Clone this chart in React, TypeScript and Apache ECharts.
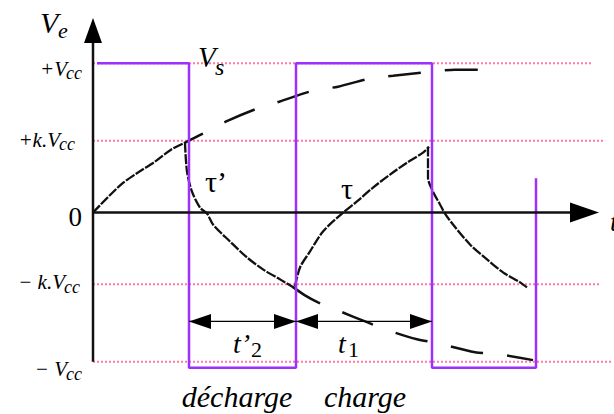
import { useEffect, useRef } from 'react';
import * as echarts from 'echarts';

const SERIF = 'Liberation Serif, Times New Roman, serif';

// Levels in units of Vcc; k is the comparator threshold ratio
const VCC = 1;
const K = 0.48;

const LEVELS = [VCC, K, 0, -K, -VCC];
const LEVEL_MAIN = ['+V', '+k.V', '0', '− k.V', '− V'];
const LEVEL_SUB = ['cc', 'cc', '', 'cc', 'cc'];

// Dotted reference lines and where each one stops on the time axis
const GUIDE_LEVELS = [VCC, K, -K, -VCC];
const GUIDE_ENDS = [49.9, 51.1, 50.7, 51.9];

// Output square wave Vs: switching instants and the level held after each one
const SWITCH_TIMES = [0.4, 9.6, 20.3, 33.9, 44.3];
const SWITCH_LEVELS = [1, -1.04, 1, -1.04, 0.23];

// Capacitor voltage Ve
const CHARGE_1 = [[0, 0], [2.8, 0.187], [4.5, 0.268], [6.2, 0.341], [7.8, 0.421], [9.2, 0.468]];
const DISCHARGE_1 = [
  [9.2, 0.468], [9.4, 0.274], [9.9, 0.14], [10.7, 0.033], [11.4, -0.007], [12.0, -0.08],
  [13.7, -0.194], [15.4, -0.301], [17.0, -0.381], [18.7, -0.448], [19.9, -0.495],
];
const CHARGE_2 = [
  [20.2, -0.495], [20.7, -0.368], [21.7, -0.261], [23.0, -0.127], [24.9, -0.007], [26.4, 0.074],
  [28.0, 0.167], [29.7, 0.254], [31.4, 0.334], [33.0, 0.401], [33.6, 0.441],
];
const DISCHARGE_2 = [
  [33.5, 0.441], [33.5, 0.234], [34.0, 0.14], [34.7, 0.054], [35.2, -0.007], [36.0, -0.08],
  [37.7, -0.214], [39.4, -0.314], [41.0, -0.401], [42.7, -0.468], [43.4, -0.502],
];

// Where Ve would go if the charge / discharge were not interrupted
const CHARGE_ASYMPTOTE = [
  [9.2, 0.468], [11.0, 0.528], [13.5, 0.615], [16.4, 0.696], [18.6, 0.742], [22.0, 0.816],
  [24.5, 0.843], [27.6, 0.896], [30.0, 0.916], [33.7, 0.943], [36.2, 0.957], [39.4, 0.957],
];
const DISCHARGE_ASYMPTOTE = [
  [19.9, -0.495], [21.2, -0.555], [22.5, -0.602], [24.7, -0.662], [27.4, -0.735], [29.5, -0.789],
  [32.4, -0.849], [34.5, -0.876], [38.2, -0.936], [40.5, -0.949], [44.0, -0.989],
];

// Durations t'2 (discharge) and t1 (charge)
const INTERVALS = [[9.6, 20.3], [20.3, 33.9]];
const INTERVAL_LEVEL = -0.73;

// Axes of the diagram
const V_AXIS = [[0, -1], [0, 1.22]];
const T_AXIS = [[0, 0], [49.5, 0]];
const AXIS_TIPS = [[0, 1.303], [50.6, 0]];

const INK = '#111';
const PURPLE = '#9b30ff';
const PINK = '#ff7aa2';

// Placement of the level labels, in pixels relative to the level's point on the axis:
// right edge, baseline of the main text, baseline of the subscript
const LEVEL_PLACE = [
  { dx: -11, main: 13, sub: 16 },
  { dx: -18, main: 6, sub: 9 },
  { dx: -11, main: 14, sub: 0 },
  { dx: -13, main: 5, sub: 9 },
  { dx: -11, main: 14, sub: 18 },
];
const LABEL_SIZE = 21;
const SUB_SIZE = 18;
const SUB_CC_WIDTH = 15;

// middle of a text of this size whose baseline sits at b
const mid = (b: number, size: number) => b - 0.34 * size;

const textEl = (x: number, baseline: number, text: string, size: number, italic: boolean, align = 'left') => ({
  type: 'text',
  x,
  y: mid(baseline, size),
  z: 20,
  silent: true,
  style: {
    text,
    fontFamily: SERIF,
    fontSize: size,
    fontStyle: italic ? 'italic' : 'normal',
    fill: '#000',
    align,
    verticalAlign: 'middle',
  },
});

export default function App() {
  const ref = useRef<HTMLDivElement>(null);

  useEffect(() => {
    if (!ref.current) return;
    const chart = echarts.init(ref.current, null, { renderer: 'svg' });

    const guideSeries = GUIDE_LEVELS.map((lvl, i) => ({
      type: 'line',
      silent: true,
      symbol: 'none',
      z: 1,
      data: [[0, lvl], [GUIDE_ENDS[i], lvl]],
      lineStyle: { color: PINK, width: 2, type: [2, 2] },
    }));

    const curve = (data: number[][]) => ({
      type: 'line',
      silent: true,
      symbol: 'none',
      smooth: 0.3,
      clip: false,
      z: 3,
      data,
      lineStyle: { color: INK, width: 2.3, type: [10, 1.5] },
    });

    const asymptote = (data: number[][], offset: number) => ({
      type: 'line',
      silent: true,
      symbol: 'none',
      smooth: 0.3,
      z: 3,
      data,
      lineStyle: { color: INK, width: 2.5, type: [33, 24], dashOffset: offset },
    });

    const axisLine = (data: number[][]) => ({
      type: 'line',
      silent: true,
      symbol: 'none',
      clip: false,
      z: 5,
      data,
      lineStyle: { color: INK, width: 2.5 },
    });

    chart.setOption({
      animation: false,
      backgroundColor: '#fff',
      grid: { left: 93, top: 11, width: 520, height: 404 },
      xAxis: { type: 'value', min: 0, max: 52, show: false },
      yAxis: { type: 'value', min: -1.35, max: 1.35, show: false },
      series: [
        ...guideSeries,
        asymptote(CHARGE_ASYMPTOTE, 13),
        asymptote(DISCHARGE_ASYMPTOTE, 0),
        curve(CHARGE_1),
        curve(DISCHARGE_1),
        curve(CHARGE_2),
        curve(DISCHARGE_2),
        {
          type: 'line',
          silent: true,
          symbol: 'none',
          step: 'end',
          z: 4,
          data: SWITCH_TIMES.map((t, i) => [t, SWITCH_LEVELS[i]]),
          lineStyle: { color: PURPLE, width: 2.5 },
        },
        axisLine(V_AXIS),
        axisLine(T_AXIS),
        {
          type: 'custom',
          silent: true,
          z: 6,
          data: AXIS_TIPS,
          encode: { x: 0, y: 1 },
          renderItem: (params: any, api: any) => {
            const p = api.coord([api.value(0), api.value(1)]);
            const pts =
              params.dataIndex === 0
                ? [[p[0], p[1]], [p[0] - 9, p[1] + 25], [p[0] + 9, p[1] + 25]]
                : [[p[0], p[1]], [p[0] - 29, p[1] - 10], [p[0] - 29, p[1] + 10]];
            return { type: 'polygon', shape: { points: pts }, style: { fill: '#000' } };
          },
        },
        {
          type: 'custom',
          silent: true,
          z: 6,
          data: INTERVALS.map(([s, e]) => [s, e, INTERVAL_LEVEL]),
          encode: { x: [0, 1], y: 2 },
          renderItem: (_params: any, api: any) => {
            const a = api.coord([api.value(0), api.value(2)]);
            const b = api.coord([api.value(1), api.value(2)]);
            const L = 22;
            const H = 7.5;
            return {
              type: 'group',
              children: [
                { type: 'line', shape: { x1: a[0], y1: a[1], x2: b[0], y2: b[1] }, style: { stroke: '#000', lineWidth: 1.2 } },
                { type: 'polygon', shape: { points: [[a[0], a[1]], [a[0] + L, a[1] - H], [a[0] + L, a[1] + H]] }, style: { fill: '#000' } },
                { type: 'polygon', shape: { points: [[b[0], b[1]], [b[0] - L, b[1] - H], [b[0] - L, b[1] + H]] }, style: { fill: '#000' } },
              ],
            };
          },
        },
        {
          // level labels on the left of the vertical axis, with subscripts
          type: 'custom',
          silent: true,
          z: 10,
          data: LEVELS.map((v) => [0, v]),
          encode: { x: 0, y: 1 },
          renderItem: (params: any, api: any) => {
            const i = params.dataIndex;
            const p = api.coord([api.value(0), api.value(1)]);
            const place = LEVEL_PLACE[i];
            const right = p[0] + place.dx;
            if (!LEVEL_SUB[i]) {
              return textEl(right, p[1] + place.main, LEVEL_MAIN[i], 27, false, 'right');
            }
            return {
              type: 'group',
              children: [
                textEl(right - SUB_CC_WIDTH, p[1] + place.main, LEVEL_MAIN[i], LABEL_SIZE, true, 'right'),
                textEl(right, p[1] + place.sub, LEVEL_SUB[i], SUB_SIZE, true, 'right'),
              ],
            };
          },
        },
      ],
      graphic: [
        textEl(40, 33, 'V', 30, true),
        textEl(58, 38, 'e', 22, true),
        textEl(198, 67, 'V', 29, true),
        textEl(215, 75, 's', 24, true),
        textEl(216, 192, 'τ’', 30, false, 'center'),
        textEl(347, 199, 'τ', 30, false, 'center'),
        textEl(233, 353, 't’', 28, true),
        textEl(251, 357, '2', 22, false),
        textEl(338, 353, 't', 28, true),
        textEl(348, 357, '1', 22, false),
        textEl(237, 407, 'décharge', 30, true, 'center'),
        textEl(365, 407, 'charge', 30, true, 'center'),
        textEl(610, 231, 't', 28, true),
      ],
    });

    return () => chart.dispose();
  }, []);

  return <div ref={ref} style={{ position: 'absolute', left: 0, top: 0, width: 614, height: 414 }} />;
}
